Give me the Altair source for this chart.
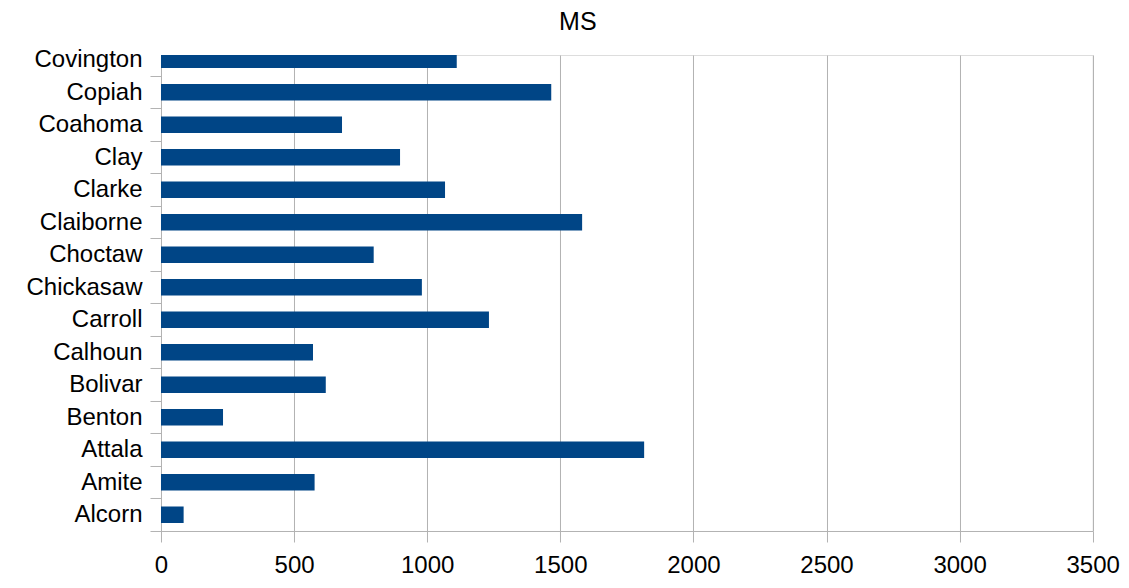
import json
import altair as alt
import pandas as pd

counties = ["Alcorn", "Amite", "Attala", "Benton", "Bolivar", "Calhoun", "Carroll",
            "Chickasaw", "Choctaw", "Claiborne", "Clarke", "Clay", "Coahoma", "Copiah",
            "Covington"]
values = [85, 577, 1815, 233, 619, 571, 1232, 980, 799, 1582, 1067, 898, 680, 1466, 1111]
x_ticks = [0, 500, 1000, 1500, 2000, 2500, 3000, 3500]

df = pd.DataFrame({"county": counties, "value": values, "idx": list(range(len(counties)))})

y_vals = []
for i in range(len(counties)):
    y_vals.append(i - 0.5)
    y_vals.append(i)

label_expr = "datum.value % 1 == 0 ? " + json.dumps(counties) + "[datum.value] : ''"

GRID = "#b3b3b3"
FONT = "Liberation Sans"

chart = alt.Chart(df).mark_bar(orient="horizontal", size=16.7, color="#004586", clip=True).encode(
    x=alt.X("value:Q", scale=alt.Scale(domain=[0, 3500], nice=False, zero=True, padding=0),
            axis=alt.Axis(values=x_ticks, title=None, grid=True, gridColor=GRID,
                          domainColor=GRID, tickColor=GRID, tickSize=11, labelPadding=12,
                          labelFont=FONT, labelFontSize=24, labelColor="black",
                          format="d", labelOverlap=False, labelFlush=False)),
    y=alt.Y("idx:Q", scale=alt.Scale(domain=[-0.5, 14.146], nice=False, zero=False, padding=0),
            axis=alt.Axis(values=y_vals, title=None, grid=False, domainColor=GRID,
                          tickColor=GRID, tickSize=11, labelPadding=8,
                          tickOpacity={"expr": "datum.value % 1 == 0 ? 0 : 1"},
                          labelExpr=label_expr, labelFont=FONT, labelFontSize=24,
                          labelColor="black", labelOverlap=False, labelBound=False,
                          labelFlush=False)),
).properties(
    width=931.7,
    height=476,
    title=alt.TitleParams("MS", font=FONT, fontSize=25, fontWeight="normal",
                          color="black", anchor="middle", frame="group", dx=-49, offset=13),
    autosize=alt.AutoSizeParams(type="none"),
    padding={"left": 153, "top": 47, "right": 27.5, "bottom": 48},
).configure_view(stroke=None).configure(background="white")

chart.save("out.html", embed_options={"renderer": "svg", "actions": False})
